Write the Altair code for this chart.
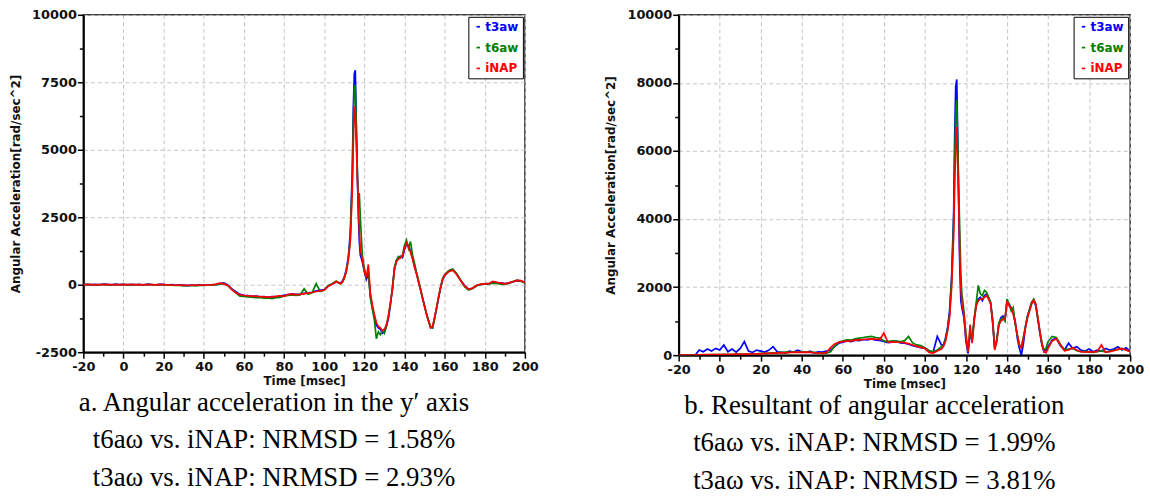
import altair as alt
import pandas as pd

# Sample times in ms: 2 ms before the impact, 1 ms / 0.5 ms through it, 2 ms after
T_PRE = list(range(-20, 110, 2))
T_MID = [109, 110, 111, 112, 113, 114, 114.5, 115, 115.5, 116,
         116.5, 117, 117.5, 118] + list(range(119, 161))
T_POST = list(range(162, 201, 2))
time_ms = T_PRE + T_MID + T_POST

SERIES = ["t3aw", "t6aw", "iNAP"]
COLORS = ["#0000ff", "#008000", "#ff0000"]

# ---- a. angular acceleration about the y' axis [rad/s^2] ----
ya_t3aw = [
    0, 10, -5, 10, 0, 20, 15, -10, 20, 5,
    10, -5, 15, 0, 10, -10, 20, 5, -5, 15,
    10, -10, 0, -20, -5, -15, -30, -10, -20, -5,
    -10, -20, 0, 5, 30, 70, -10, -160, -260, -360,
    -390, -400, -430, -420, -450, -440, -470, -440, -450, -420,
    -390, -370, -340, -360, -350, -320, -300, -280, -230, -210,
    -180, -50, 30, 100, 60,
    120, 280, 560, 1000, 1900, 4200, 6500, 7800, 7950, 6000,
    4200, 2600, 1600, 1100, 850, 500, 200, 400, -400, -850,
    -1200, -1500, -1600, -1650, -1800, -1750, -1550, -1250, -750, -100,
    550, 900, 1000, 1050, 1000, 1300, 1500, 1450, 1250, 1000,
    700, 420, 120, -180, -480, -780, -1080, -1330, -1580, -1600,
    -1250, -880, -480, -120, 180, 330,
    500, 560, 400, 170, -30, -160, -130, -30, 10, 40,
    30, 100, 80, 70, 40, 60, 100, 150, 140, 90,
]
ya_t6aw = [
    0, 5, 0, -5, 5, 0, -5, 5, 0, -5,
    5, 0, -5, 5, 0, -10, 0, 5, -5, 0,
    -5, -15, -20, -30, -25, -40, -35, -30, -40, -25,
    -30, -20, -15, 0, 20, 40, -30, -170, -300, -420,
    -430, -450, -460, -480, -470, -500, -490, -520, -480, -470,
    -420, -400, -380, -400, -380, -150, -350, -300, 40, -250,
    -200, -40, 40, 140, 30,
    80, 220, 480, 950, 1700, 3900, 6000, 7300, 7400, 5800,
    4300, 3000, 3400, 2500, 1100, 600, 300, 500, -500, -900,
    -1300, -2000, -1750, -1850, -1700, -1800, -1500, -1150, -700, -150,
    650, 900, 1050, 1000, 1100, 1450, 1650, 1350, 1600, 1100,
    800, 450, 150, -150, -500, -800, -1100, -1350, -1550, -1600,
    -1250, -850, -450, -80, 230, 380,
    520, 580, 420, 160, -80, -200, -140, -40, 10, 20,
    30, 60, 50, 20, 10, 60, 120, 170, 130, 60,
]
ya_inap = [
    0, 5, 0, -5, 0, 5, 0, 0, -5, 0,
    0, 5, 0, 0, -5, 0, 5, 0, -5, 0,
    0, -10, -10, -20, -15, -20, -25, -20, -15, -20,
    -15, -10, -5, 20, 60, 30, -30, -180, -300, -370,
    -400, -410, -420, -430, -440, -450, -460, -450, -430, -410,
    -430, -360, -350, -370, -360, -330, -310, -290, -250, -230,
    -200, -60, 20, 120, 40,
    100, 250, 500, 900, 1600, 3500, 5200, 6600, 6400, 5200,
    4000, 3000, 2000, 1300, 950, 500, 250, 750, -300, -750,
    -1100, -1400, -1550, -1600, -1700, -1650, -1500, -1200, -650, -200,
    600, 850, 950, 1000, 1050, 1350, 1550, 1400, 1200, 950,
    650, 400, 100, -200, -500, -800, -1100, -1350, -1600, -1550,
    -1200, -850, -450, -100, 200, 350,
    480, 540, 380, 150, -50, -170, -120, -20, 20, 30,
    40, 120, 90, 60, 30, 70, 110, 160, 150, 80,
]

# ---- b. resultant angular acceleration [rad/s^2] ----
yb_t3aw = [
    0, 0, 0, 0, 0, 150, 100, 180, 120, 200,
    150, 300, 100, 180, 90, 200, 400, 120, 80, 150,
    120, 90, 150, 250, 100, 80, 60, 120, 90, 150,
    100, 80, 120, 60, 100, 90, 120, 150, 250, 350,
    380, 420, 400, 440, 430, 460, 450, 480, 440, 430,
    400, 370, 380, 410, 360, 350, 320, 280, 250, 220,
    200, 130, 90, 550, 300,
    300, 500, 800, 1300, 2300, 4200, 6500, 7900, 8100, 6300,
    4200, 2500, 1600, 1400, 1100, 400, 50, 600, 450, 1050,
    1500, 1650, 1700, 1600, 1750, 1800, 1700, 1550, 950, 200,
    450, 900, 1100, 1150, 1050, 1550, 1500, 1400, 1250, 1000,
    500, 200, 0, 350, 850, 1150, 1350, 1550, 1600, 1450,
    1050, 650, 300, 100, 150, 250,
    450, 500, 280, 150, 350, 200, 250, 150, 120, 180,
    100, 150, 120, 200, 150, 180, 250, 150, 220, 120,
]
yb_t6aw = [
    0, 0, 0, 0, 0, 5, 10, 10, 15, 15,
    20, 20, 25, 20, 30, 30, 35, 30, 40, 40,
    50, 50, 60, 70, 60, 80, 90, 80, 100, 90,
    100, 90, 90, 80, 70, 60, 60, 100, 260, 380,
    420, 450, 440, 480, 500, 520, 540, 550, 520, 500,
    420, 400, 420, 410, 400, 420, 550, 360, 300, 280,
    220, 130, 100, 150, 250,
    300, 450, 750, 1200, 2200, 3900, 5800, 7100, 7500, 6200,
    4800, 3600, 2400, 1800, 1300, 600, 150, 700, 400, 1100,
    1550, 2050, 1800, 1750, 1900, 1850, 1700, 1550, 1050, 200,
    450, 950, 1050, 1100, 1000, 1650, 1500, 1300, 1400, 900,
    600, 300, 250, 550, 850, 1150, 1350, 1550, 1650, 1500,
    1100, 700, 350, 150, 200, 400,
    550, 520, 320, 160, 180, 200, 130, 100, 120, 90,
    80, 100, 130, 90, 110, 150, 170, 200, 150, 100,
]
yb_inap = [
    0, 0, 0, 0, 0, 10, 15, 15, 20, 20,
    20, 25, 20, 25, 30, 25, 30, 30, 35, 40,
    40, 50, 55, 60, 60, 70, 70, 80, 80, 90,
    80, 90, 80, 70, 60, 50, 80, 220, 330, 380,
    400, 410, 420, 440, 450, 460, 470, 480, 470, 460,
    650, 380, 390, 380, 380, 370, 340, 300, 260, 230,
    200, 80, 60, 120, 180,
    250, 400, 700, 1100, 2000, 3500, 5000, 6200, 6700, 5500,
    4400, 2800, 2000, 1500, 1200, 500, 100, 900, 350, 1000,
    1450, 1600, 1650, 1650, 1700, 1750, 1650, 1500, 1000, 150,
    400, 880, 1000, 1050, 1050, 1600, 1450, 1380, 1200, 950,
    600, 300, 200, 500, 800, 1100, 1300, 1500, 1620, 1500,
    1100, 700, 350, 100, 70, 200,
    420, 480, 300, 130, 150, 220, 150, 100, 90, 100,
    90, 110, 300, 90, 100, 130, 170, 190, 150, 110,
]

caption_a = ["a. Angular acceleration in the y\u2032 axis",
             "t6a\u03c9 vs. iNAP: NRMSD = 1.58%",
             "t3a\u03c9 vs. iNAP: NRMSD = 2.93%"]
caption_b = ["b. Resultant of angular acceleration",
             "t6a\u03c9 vs. iNAP: NRMSD = 1.99%",
             "t3a\u03c9 vs. iNAP: NRMSD = 3.81%"]


def long_table(v3, v6, vi):
    rows = []
    for name, vals in zip(SERIES, (v3, v6, vi)):
        for t, v in zip(time_ms, vals):
            rows.append({"time": t, "acc": v, "series": name})
    return pd.DataFrame(rows)


LEGEND_LABEL_COLOR = ("datum.value === 't3aw' ? '#0000ff' : "
                      "datum.value === 't6aw' ? '#008000' : '#ff0000'")
GRID = "#c4c4c4"
NO_GRID = "rgba(0,0,0,0)"


def panel(df, width, height, ymin, ymax, ystep, ymajor, caption):
    major_x = "datum.value % 20 === 0"
    major_y = f"datum.value % {ymajor} === 0"
    x_axis = alt.Axis(
        values=list(range(-20, 201, 10)),
        labelExpr=f"{major_x} ? '' + datum.value : ''",
        labelOverlap=False, labelFlush=False,
        grid=True,
        gridColor={"condition": {"test": major_x, "value": GRID}, "value": NO_GRID},
        tickSize={"condition": {"test": major_x, "value": 6}, "value": 4},
        labelPadding=2, titlePadding=3, title="Time [msec]",
    )
    y_axis = alt.Axis(
        values=list(range(ymin, ymax + 1, ystep)),
        labelExpr=f"{major_y} ? '' + datum.value : ''",
        labelOverlap=False, labelFlush=False,
        grid=True,
        gridColor={"condition": {"test": major_y, "value": GRID}, "value": NO_GRID},
        tickSize={"condition": {"test": major_y, "value": 6}, "value": 4},
        labelPadding=1, titlePadding=9,
        title="Angular Acceleration[rad/sec^2]",
    )
    legend = alt.Legend(
        title=None, orient="top-right", offset=2,
        symbolType="stroke", symbolSize=12, symbolStrokeWidth=2,
        labelFont="DejaVu Sans", labelFontSize=12, labelFontWeight="bold",
        labelColor={"expr": LEGEND_LABEL_COLOR}, labelOffset=1,
        strokeColor="black", fillColor="white", padding=4, rowPadding=9,
    )
    return alt.Chart(df).mark_line(clip=True).encode(
        x=alt.X("time:Q", scale=alt.Scale(domain=[-20, 200], nice=False, zero=False), axis=x_axis),
        y=alt.Y("acc:Q", scale=alt.Scale(domain=[ymin, ymax], nice=False, zero=False), axis=y_axis),
        color=alt.Color("series:N", scale=alt.Scale(domain=SERIES, range=COLORS), legend=legend),
        strokeWidth=alt.StrokeWidth("series:N", scale=alt.Scale(domain=SERIES, range=[1.7, 1.7, 2.2]), legend=None),
    ).properties(
        width=width, height=height,
        title=alt.TitleParams(
            text=caption, orient="bottom", anchor="middle", frame="bounds",
            font="Liberation Serif", fontSize=27, fontWeight="normal",
            lineHeight=38, offset=3, color="black",
        ),
    )


left = panel(long_table(ya_t3aw, ya_t6aw, ya_inap), 445, 340, -2500, 10000, 1250, 2500, caption_a)
right = panel(long_table(yb_t3aw, yb_t6aw, yb_inap), 455, 343, 0, 10000, 1000, 2000, caption_b)

chart = alt.hconcat(left, right, spacing=65).resolve_scale(
    color="independent", strokeWidth="independent",
).resolve_legend(
    color="independent",
).properties(
    padding={"left": 9, "top": 6, "right": 5, "bottom": 0},
).configure_view(
    stroke="#333333", strokeWidth=1.5,
).configure_axis(
    domainColor="black", domainWidth=2, tickColor="black", tickWidth=1.5,
    labelFont="DejaVu Sans", labelFontSize=13, labelFontWeight="bold", labelColor="#111111",
    titleFont="DejaVu Sans", titleFontSize=12, titleFontWeight="bold", titleColor="#111111",
    gridDash=[4, 3], gridWidth=1,
)

chart.save("out.html", embed_options={"renderer": "svg", "actions": False})
